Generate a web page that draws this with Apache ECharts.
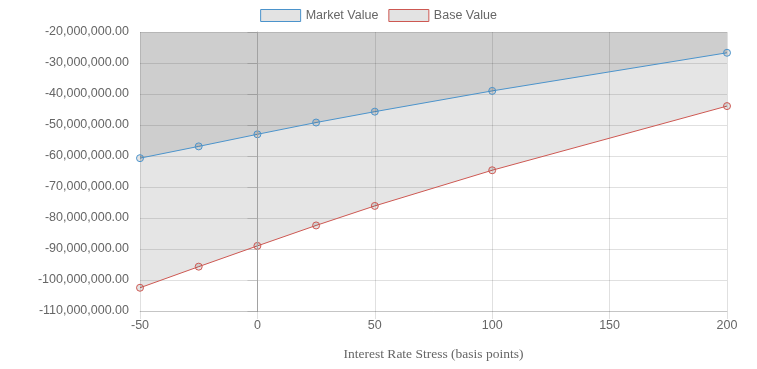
<!DOCTYPE html>
<html>
<head>
<meta charset="utf-8">
<script src="https://cdn.jsdelivr.net/npm/echarts@6/dist/echarts.min.js"></script>
<style>html,body{margin:0;padding:0;background:#fff}#c{width:757px;height:369px}</style>
</head>
<body>
<div id="c"></div>
<script>
const stress = [-50, -25, 0, 25, 50, 100, 200];
const marketValue = [-60.7e6, -56.9e6, -53.0e6, -49.2e6, -45.7e6, -39.0e6, -26.7e6];
const baseValue = [-102.5e6, -95.7e6, -89.0e6, -82.4e6, -76.1e6, -64.6e6, -43.9e6];
const seriesNames = ['Market Value', 'Base Value'];
const xTitle = 'Interest Rate Stress (basis points)';

const blue = '#4b93cb';
const red = '#cd5852';
const fill = 'rgba(0,0,0,0.1)';

function fmt(v) {
  const s = Math.abs(v).toFixed(2).split('.');
  s[0] = s[0].replace(/\B(?=(\d{3})+(?!\d))/g, ',');
  return (v < 0 ? '-' : '') + s.join('.');
}

const chart = echarts.init(document.getElementById('c'), null, {renderer: 'canvas'});
chart.setOption({
  animation: false,
  textStyle: {fontFamily: 'Liberation Sans, Arial, sans-serif'},
  legend: {
    top: 4,
    left: 'center',
    itemWidth: 40,
    itemHeight: 12,
    itemGap: 10,
    icon: 'rect',
    textStyle: {color: '#666', fontSize: 12.5},
    data: [
      {name: seriesNames[0], itemStyle: {color: '#e3e3e3', borderColor: blue, borderWidth: 1}},
      {name: seriesNames[1], itemStyle: {color: '#e3e3e3', borderColor: red, borderWidth: 1}}
    ]
  },
  grid: {left: 140, right: 30, top: 32, bottom: 58},
  xAxis: {
    type: 'value',
    min: -50, max: 200, interval: 50,
    name: xTitle,
    nameLocation: 'middle',
    nameGap: 36,
    nameTextStyle: {fontFamily: 'Liberation Serif, serif', fontSize: 13.5, color: '#666'},
    axisLine: {show: true, onZero: false, lineStyle: {color: 'rgba(0,0,0,0.12)'}},
    axisTick: {show: true, length: 8, lineStyle: {color: 'rgba(0,0,0,0.12)'}},
    axisLabel: {color: '#666', fontSize: 12.5, margin: 8},
    splitLine: {show: true, lineStyle: {color: 'rgba(0,0,0,0.12)'}}
  },
  yAxis: {
    type: 'value',
    min: -110e6, max: -20e6, interval: 10e6,
    axisLine: {show: true, lineStyle: {color: 'rgba(0,0,0,0.25)'}},
    axisTick: {show: true, length: 10, lineStyle: {color: 'rgba(0,0,0,0.12)'}},
    axisLabel: {color: '#666', fontSize: 12.5, margin: 11, formatter: fmt},
    splitLine: {show: true, lineStyle: {color: 'rgba(0,0,0,0.12)'}}
  },
  series: [
    {
      name: seriesNames[0],
      type: 'line',
      data: stress.map((x, i) => [x, marketValue[i]]),
      symbol: 'circle',
      symbolSize: 7,
      lineStyle: {color: blue, width: 1},
      itemStyle: {color: 'rgba(0,0,0,0.1)', borderColor: blue, borderWidth: 1},
      areaStyle: {color: fill, origin: 'end', opacity: 1},
      markLine: {
        silent: true,
        symbol: 'none',
        label: {show: false},
        lineStyle: {color: '#a2a2a2', type: 'solid', width: 1, opacity: 1},
        data: [{xAxis: 0}]
      }
    },
    {
      name: seriesNames[1],
      type: 'line',
      data: stress.map((x, i) => [x, baseValue[i]]),
      symbol: 'circle',
      symbolSize: 7,
      lineStyle: {color: red, width: 1},
      itemStyle: {color: 'rgba(0,0,0,0.1)', borderColor: red, borderWidth: 1},
      areaStyle: {color: fill, origin: 'end', opacity: 1}
    }
  ]
});
</script>
</body>
</html>
